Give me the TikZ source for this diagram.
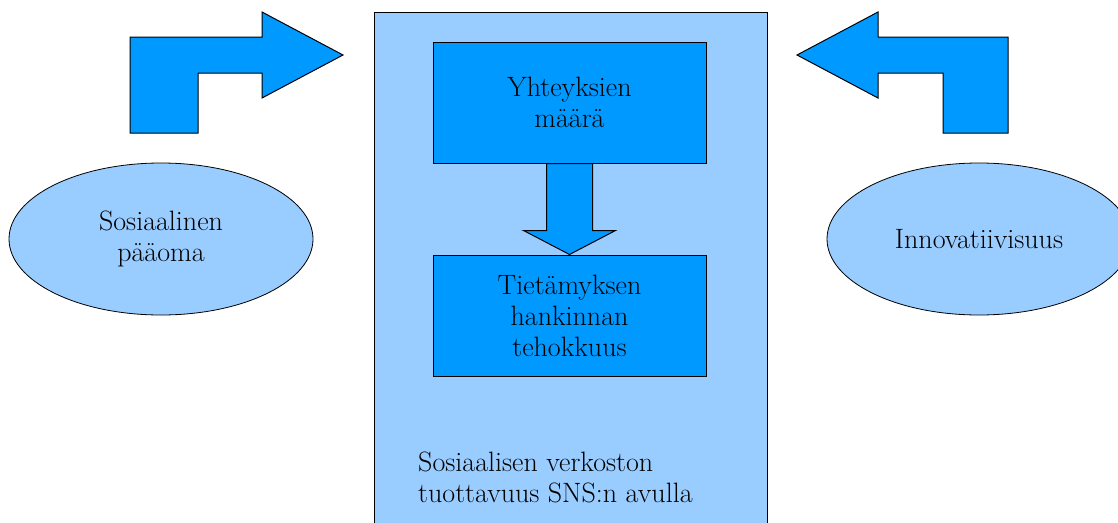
\documentclass[tikz,border=0pt]{standalone}
\usepackage{tikz}
\usetikzlibrary{positioning,shapes.geometric,calc}
\definecolor{panelblue}{HTML}{99CCFF}
\definecolor{boxblue}{HTML}{0099FF}
\newcommand{\lbl}{\fontsize{28}{31}\selectfont}
\tikzset{
  panel/.style={draw, line width=1pt, fill=panelblue},
  block/.style={draw, line width=1pt, fill=boxblue, align=center, font=\lbl,
    minimum width=273pt, minimum height=121pt},
  oval/.style={ellipse, draw, line width=0.8pt, fill=panelblue, align=center, font=\lbl,
    minimum width=304pt, minimum height=152pt, inner sep=0pt},
  bigarrow/.style={draw, line width=1pt, fill=boxblue, line join=miter}
}

\begin{document}
\begin{tikzpicture}[x=1pt, y=-1pt]
  \useasboundingbox (0,0) rectangle (1118,522);
  \clip (0,0) rectangle (1118,522);
  % container
  \draw[panel] (374,12) rectangle (767,540);
  \node[block] (yhteys) at (569.5,102.5) {Yhteyksien\\määrä};
  \node[block, below=91pt of yhteys] (tieto) {Tietämyksen\\hankinnan\\tehokkuus};
  \node[anchor=west, align=left, font=\lbl, inner sep=0pt] (tuotto) at (418,477)
    {Sosiaalisen verkoston\\tuottavuus SNS:n avulla};
  \draw[bigarrow] ($(yhteys.south)+(-23,0)$) -- ++(0,67) -- ++(-23,0) -- (tieto.north)
    -- ($(yhteys.south)+(46,67)$) -- ++(-23,0) -- ($(yhteys.south)+(23,0)$) -- cycle;
  % side concepts
  \node[oval] (paaoma) at (161,239) {Sosiaalinen\\pääoma};
  \node[oval] (innov) at (979,239) {Innovatiivisuus};
  \draw[bigarrow] (130,37) -- (262,37) -- (262,12) -- (343,55) -- (262,98) -- (262,73)
    -- (198,73) -- (198,133) -- (130,133) -- cycle;
  \draw[bigarrow] (797,55) -- (878,12) -- (878,37) -- (1008,37) -- (1008,133)
    -- (943,133) -- (943,73) -- (878,73) -- (878,98) -- cycle;
\end{tikzpicture}
\end{document}
